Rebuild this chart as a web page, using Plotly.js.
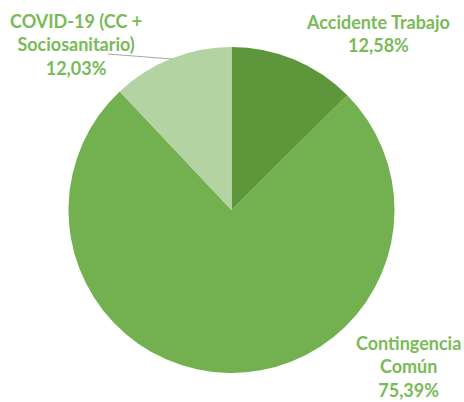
<!DOCTYPE html>
<html>
<head>
<meta charset="utf-8">
<script src="https://cdn.plot.ly/plotly-3.0.1.min.js"></script>
<style>html,body{margin:0;padding:0;background:#fff;}#chart{width:464px;height:402px;}</style>
</head>
<body>
<div id="chart"></div>
<script>
const categories = ["Accidente Trabajo", "Contingencia Común", "COVID-19 (CC + Sociosanitario)"];
const labelLines = [["Accidente Trabajo"], ["Contingencia", "Común"], ["COVID-19 (CC +", "Sociosanitario)"]];
const values = [12.58, 75.39, 12.03];
const valueText = ["12,58%", "75,39%", "12,03%"];
const colors = ["#5e963c", "#72b050", "#b4d3a3"];

const labelPos = [
  {x: 378 / 464, y: 1 - 33 / 402},
  {x: 408 / 464, y: 1 - 366 / 402},
  {x: 76 / 464, y: 1 - 45 / 402}
];

const annotations = categories.map((c, i) => ({
  xref: "paper", yref: "paper",
  x: labelPos[i].x, y: labelPos[i].y,
  xanchor: "center", yanchor: "middle",
  showarrow: false,
  align: "center",
  text: labelLines[i].concat([valueText[i]]).join("<br>"),
  font: {family: "Lato, 'Open Sans', sans-serif", size: 18, color: "#7aba58", weight: 700}
}));

const data = [{
  type: "pie",
  labels: categories,
  values: values,
  sort: false,
  direction: "clockwise",
  rotation: 0,
  textinfo: "none",
  hoverinfo: "none",
  marker: {colors: colors, line: {width: 0}},
  domain: {x: [68.5 / 464, 394.5 / 464], y: [29 / 402, 355 / 402]},
  showlegend: false
}];

const layout = {
  width: 464, height: 402,
  margin: {l: 0, r: 0, t: 0, b: 0},
  paper_bgcolor: "#ffffff",
  showlegend: false,
  annotations: annotations,
  shapes: [{
    type: "line", xref: "paper", yref: "paper",
    x0: 108 / 464, y0: 1 - 54 / 402, x1: 172 / 464, y1: 1 - 59 / 402,
    line: {color: "#a6a6a6", width: 1}
  }]
};

Plotly.newPlot("chart", data, layout, {displayModeBar: false, staticPlot: true});
</script>
</body>
</html>
